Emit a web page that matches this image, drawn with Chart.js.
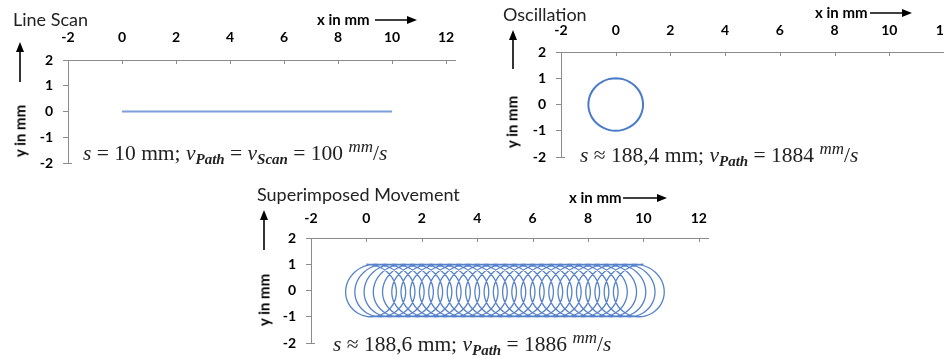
<!DOCTYPE html>
<html>
<head>
<meta charset="utf-8">
<script src="https://cdn.jsdelivr.net/npm/chart.js@4"></script>
<style>
  body { margin: 0; width: 944px; height: 356px; overflow: hidden; background: #fff; position: relative; }
  canvas { position: absolute; }
  .t { position: absolute; font-family: Lato, sans-serif; color: #222; white-space: nowrap; line-height: 1; }
  .title { font-size: 18px; }
  .ax { font-size: 15px; font-weight: bold; color: #000; }
  .ylab { transform: translate(-50%, -50%) rotate(-90deg); }
  .f { position: absolute; font-family: "Liberation Serif", serif; font-size: 21.5px; color: #222; white-space: nowrap; line-height: 1; }
  .f sub { font-size: 15px; font-style: italic; font-weight: bold; vertical-align: -4px; }
  .f sup { font-size: 17px; font-style: italic; vertical-align: 8px; }
  svg { position: absolute; overflow: visible; }
</style>
</head>
<body>
<canvas id="c1" width="470" height="175" style="left:0;top:0"></canvas>
<canvas id="c2" width="480" height="175" style="left:492px;top:0"></canvas>
<canvas id="c3" width="480" height="181" style="left:240px;top:175px"></canvas>

<div class="t title" style="left:13px;top:10px">Line Scan</div>
<div class="t ax" style="left:317px;top:12px">x in mm</div>
<div class="t ax ylab" style="left:20px;top:131px">y in mm</div>
<div class="f" style="left:83px;top:138px"><i>s</i> = 10 mm; <i>v</i><sub>Path</sub> = <i>v</i><sub>Scan</sub> = 100 <sup>mm</sup>/<i>s</i></div>

<div class="t title" style="left:503px;top:5px">Oscillation</div>
<div class="t ax" style="left:815px;top:5px">x in mm</div>
<div class="t ax ylab" style="left:512px;top:122px">y in mm</div>
<div class="f" style="left:580px;top:140px"><i>s</i> ≈ 188,4 mm; <i>v</i><sub>Path</sub> = 1884 <sup>mm</sup>/<i>s</i></div>

<div class="t title" style="left:257px;top:185px">Superimposed Movement</div>
<div class="t ax" style="left:569px;top:190px">x in mm</div>
<div class="t ax ylab" style="left:264px;top:300px">y in mm</div>
<div class="f" style="left:333px;top:329px"><i>s</i> ≈ 188,6 mm; <i>v</i><sub>Path</sub> = 1886 <sup>mm</sup>/<i>s</i></div>

<svg width="944" height="356" style="left:0;top:0">
  <g stroke="#000" stroke-width="1.6" fill="#000">
    <line x1="375" y1="20" x2="409" y2="20"/><polygon points="417,20 407,16 407,24" stroke="none"/>
    <line x1="20" y1="82" x2="20" y2="50"/><polygon points="20,42 16,52 24,52" stroke="none"/>
    <line x1="870" y1="13" x2="904" y2="13"/><polygon points="912,13 902,9 902,17" stroke="none"/>
    <line x1="513" y1="69" x2="513" y2="38"/><polygon points="513,30 509,40 517,40" stroke="none"/>
    <line x1="623" y1="198" x2="659" y2="198"/><polygon points="667,198 657,194 657,202" stroke="none"/>
    <line x1="264" y1="250" x2="264" y2="218"/><polygon points="264,210 260,220 268,220" stroke="none"/>
  </g>
</svg>

<script>
// axis ticks
const xTicks = [-2, 0, 2, 4, 6, 8, 10, 12];
const yTicks = [-2, -1, 0, 1, 2];

// line scan: 0 .. 10 mm on y = 0
const scanX = [0, 10];
const scanY = [0, 0];

// oscillation: unit circle, starts at top, clockwise
const circleX = [0, 0.259, 0.5, 0.707, 0.866, 0.966, 1, 0.966, 0.866, 0.707, 0.5, 0.259,
  0, -0.259, -0.5, -0.707, -0.866, -0.966, -1, -0.966, -0.866, -0.707, -0.5, -0.259, 0];
const circleY = [1, 0.966, 0.866, 0.707, 0.5, 0.259, 0, -0.259, -0.5, -0.707, -0.866, -0.966,
  -1, -0.966, -0.866, -0.707, -0.5, -0.259, 0, 0.259, 0.5, 0.707, 0.866, 0.966, 1];

// superimposed: one loop (x relative to loop start, includes scan drift), 30 loops
const loopX = [0, 0.273, 0.528, 0.749, 0.922, 1.035, 1.083, 1.063, 0.977, 0.832, 0.639, 0.412,
  0.167, -0.078, -0.306, -0.499, -0.644, -0.73, -0.75, -0.702, -0.588, -0.415, -0.194, 0.06];
const loopStarts = [0, 0.333, 0.667, 1, 1.333, 1.667, 2, 2.333, 2.667, 3, 3.333, 3.667,
  4, 4.333, 4.667, 5, 5.333, 5.667, 6, 6.333, 6.667, 7, 7.333, 7.667, 8, 8.333, 8.667,
  9, 9.333, 9.667];
const pathEnd = { x: 10, y: 1 };

const scanPts = scanX.map((x, i) => ({ x: x, y: scanY[i] }));
const circlePts = circleX.map((x, i) => ({ x: x, y: circleY[i] }));
const superPts = [];
loopStarts.forEach(function (x0) {
  loopX.forEach(function (dx, j) { superPts.push({ x: x0 + dx, y: circleY[j] }); });
});
superPts.push(pathEnd);

const axisGray = '#8c8c8c';
const tickFont = { family: 'Lato', weight: 'bold', size: 14 };

// x ticks of the top axis point down into the plot, small stub at the y axis foot
const innerTicks = {
  id: 'innerTicks',
  afterDraw(chart) {
    const ctx = chart.ctx, xs = chart.scales.x, a = chart.chartArea;
    ctx.save();
    ctx.strokeStyle = axisGray;
    ctx.lineWidth = 1;
    ctx.beginPath();
    xTicks.forEach(function (v) {
      const px = Math.round(xs.getPixelForValue(v)) + 0.5;
      ctx.moveTo(px, a.top);
      ctx.lineTo(px, a.top + 4);
    });
    ctx.moveTo(a.left, Math.round(a.bottom) + 0.5);
    ctx.lineTo(a.left + 4, Math.round(a.bottom) + 0.5);
    ctx.stroke();
    ctx.restore();
  }
};

function makeChart(id, points, color, width, yW, xH, pad, xPad) {
  const ctx = document.getElementById(id).getContext('2d');
  return new Chart(ctx, {
    type: 'scatter',
    data: {
      datasets: [{
        data: points,
        showLine: true,
        borderColor: color,
        borderWidth: width,
        pointRadius: 0,
        tension: 0.4,
        fill: false
      }]
    },
    options: {
      responsive: false,
      animation: false,
      devicePixelRatio: 1,
      layout: { padding: pad },
      plugins: { legend: { display: false }, tooltip: { enabled: false } },
      scales: {
        x: {
          type: 'linear',
          position: 'top',
          min: -2,
          max: 12.33,
          afterBuildTicks: function (s) { s.ticks = xTicks.map(v => ({ value: v })); },
          afterFit: function (s) { s.height = xH; s.paddingLeft = 0; s.paddingRight = 0; },
          grid: { drawOnChartArea: false, drawTicks: false },
          border: { color: axisGray, width: 1 },
          ticks: { padding: xPad, color: '#000', font: tickFont }
        },
        y: {
          min: -2,
          max: 2,
          afterBuildTicks: function (s) { s.ticks = yTicks.map(v => ({ value: v })); },
          afterFit: function (s) { s.width = yW; s.paddingTop = 0; s.paddingBottom = 0; },
          grid: { drawOnChartArea: false, drawTicks: true, tickLength: 5, color: axisGray },
          border: { color: axisGray, width: 1 },
          ticks: { padding: 10, color: '#000', font: tickFont }
        }
      }
    },
    plugins: [innerTicks]
  });
}

makeChart('c1', scanPts, '#7b9dd8', 2, 68, 60, { top: 0, left: 0, right: 15, bottom: 12 }, 14);
makeChart('c2', circlePts, '#4a7bc8', 2, 69, 52, { top: 0, left: 0, right: 19, bottom: 18 }, 13);
makeChart('c3', superPts, '#5582cb', 1.3, 71, 63, { top: 0, left: 0, right: 12, bottom: 13 }, 11);
</script>
</body>
</html>
